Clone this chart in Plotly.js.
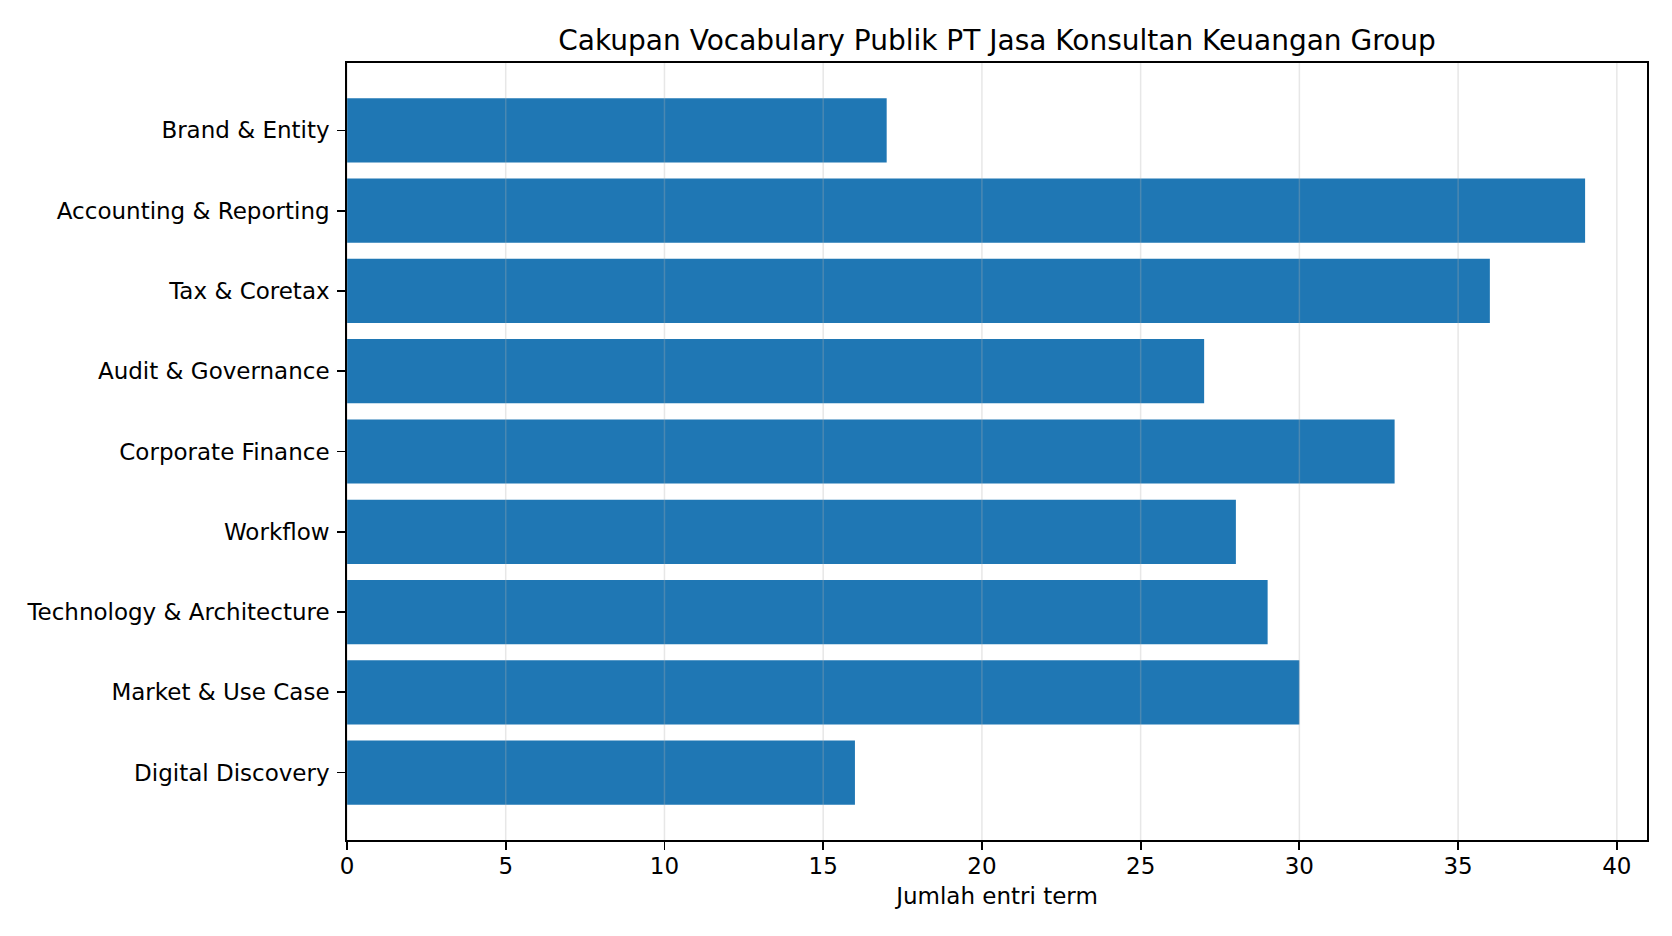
<!DOCTYPE html>
<html>
<head>
<meta charset="utf-8">
<script src="https://cdn.plot.ly/plotly-3.0.1.min.js"></script>
<style>
  html, body { margin: 0; padding: 0; background: #fff; }
  #plot { width: 1672px; height: 936px; }
</style>
</head>
<body>
<div id="plot"></div>
<script>
// categories top to bottom, as in the picture
var categories = [
  "Brand & Entity",
  "Accounting & Reporting",
  "Tax & Coretax",
  "Audit & Governance",
  "Corporate Finance",
  "Workflow",
  "Technology & Architecture",
  "Market & Use Case",
  "Digital Discovery"
];
var termCounts = [17, 39, 36, 27, 33, 28, 29, 30, 16];
var xTicks = [0, 5, 10, 15, 20, 25, 30, 35, 40];

var chartTitle = "Cakupan Vocabulary Publik PT Jasa Konsultan Keuangan Group";
var xTitle = "Jumlah entri term";

var font = "DejaVu Sans, Liberation Sans, sans-serif";

var bars = {
  type: 'bar',
  orientation: 'h',
  x: termCounts,
  y: categories,
  marker: { color: '#1f77b4', line: { width: 0 } },
  hoverinfo: 'x+y'
};

// matplotlib style margins: 5% past the longest bar, half a slot + bar edge on y
var xMax = Math.max.apply(null, termCounts) * 1.05;
var n = categories.length;
var yPad = (n - 1 + 0.8) * 0.05;

// grid drawn over the bars like the original
var grid = xTicks.map(function (t) {
  return {
    type: 'line', xref: 'x', yref: 'paper',
    x0: t, x1: t, y0: 0, y1: 1,
    layer: 'above',
    line: { color: 'rgba(176,176,176,0.3)', width: 1.5 }
  };
});

var layout = {
  width: 1672,
  height: 936,
  margin: { l: 347, r: 25, t: 63, b: 96 },
  paper_bgcolor: '#fff',
  plot_bgcolor: '#fff',
  font: { family: font, size: 23, color: '#000' },
  showlegend: false,
  bargap: 0.2,
  title: {
    text: chartTitle,
    font: { family: font, size: 28, color: '#000' },
    x: 0.5, xref: 'paper', xanchor: 'center',
    y: 1, yref: 'paper', yanchor: 'bottom',
    pad: { b: 13 }
  },
  xaxis: {
    range: [0, xMax],
    tickvals: xTicks,
    ticktext: xTicks.map(String),
    ticks: 'outside', ticklen: 8, tickwidth: 1.8, tickcolor: '#000',
    ticklabelstandoff: -3,
    showgrid: false, zeroline: false,
    showline: true, mirror: true, linecolor: '#000', linewidth: 1.8,
    tickfont: { family: font, size: 23, color: '#000' },
    title: { text: xTitle, font: { family: font, size: 23, color: '#000' }, standoff: 9 }
  },
  yaxis: {
    type: 'category',
    categoryorder: 'array',
    categoryarray: categories,
    range: [n - 1 + 0.4 + yPad, -0.4 - yPad],
    ticks: 'outside', ticklen: 8, tickwidth: 1.8, tickcolor: '#000',
    ticklabelstandoff: 3,
    showgrid: false, zeroline: false,
    showline: true, mirror: true, linecolor: '#000', linewidth: 1.8,
    tickfont: { family: font, size: 23, color: '#000' },
    automargin: false
  },
  shapes: grid
};

Plotly.newPlot('plot', [bars], layout, { staticPlot: true, displayModeBar: false });
</script>
</body>
</html>
